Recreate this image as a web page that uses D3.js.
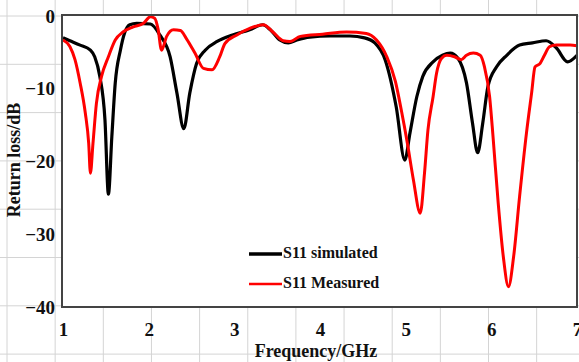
<!DOCTYPE html>
<html>
<head>
<meta charset="utf-8">
<script src="https://cdn.jsdelivr.net/npm/d3@7"></script>
<style>
  body { margin: 0; background: #fff; }
  svg text { font-family: "Liberation Serif", "Times New Roman", serif; font-weight: bold; fill: #111; }
</style>
</head>
<body>
<div id="chart"></div>
<script>
// frequency (GHz) and return loss (dB)
const simFreq = [1.00, 1.08, 1.20, 1.32, 1.37, 1.43, 1.49, 1.53, 1.57, 1.61, 1.67, 1.72, 1.78, 1.86, 2.02,
  2.13, 2.25, 2.33, 2.41, 2.48, 2.56, 2.66, 2.80, 2.98, 3.18, 3.33, 3.42, 3.53, 3.63, 3.73, 3.88, 4.12,
  4.35, 4.52, 4.64, 4.76, 4.89, 4.99, 5.05, 5.13, 5.20, 5.32, 5.43, 5.52, 5.61, 5.71, 5.78, 5.84, 5.90,
  5.96, 6.06, 6.18, 6.33, 6.48, 6.64, 6.76, 6.89, 7.00];
const simLoss = [-3.0, -3.4, -4.0, -4.7, -5.6, -8.3, -14.3, -24.5, -16.6, -9.2, -4.7, -2.3, -1.2, -1.0, -1.1,
  -2.6, -5.6, -10.6, -15.5, -10.6, -6.5, -4.7, -3.5, -2.6, -1.9, -1.2, -1.9, -3.3, -3.7, -3.3, -2.9, -2.75,
  -2.75, -3.0, -3.7, -6.0, -12.5, -19.8, -16.1, -11.1, -8.3, -6.3, -5.4, -5.1, -5.8, -9.2, -14.7, -18.8, -14.7,
  -9.7, -7.0, -5.4, -4.0, -3.7, -3.4, -4.4, -6.3, -5.4];

const measFreq = [1.00, 1.08, 1.14, 1.20, 1.26, 1.30, 1.32, 1.35, 1.39, 1.45, 1.53, 1.61, 1.70, 1.82, 1.94,
  2.02, 2.07, 2.11, 2.15, 2.21, 2.29, 2.37, 2.44, 2.54, 2.64, 2.74, 2.83, 2.89, 3.03, 3.18, 3.34, 3.45,
  3.57, 3.65, 3.77, 4.03, 4.31, 4.54, 4.66, 4.78, 4.88, 4.95, 5.02, 5.09, 5.17, 5.22, 5.26, 5.32, 5.36,
  5.42, 5.48, 5.57, 5.65, 5.71, 5.79, 5.87, 5.92, 5.98, 6.02, 6.08, 6.14, 6.20, 6.26, 6.33, 6.41, 6.47,
  6.51, 6.57, 6.62, 6.68, 6.76, 6.92, 7.00];
const measLoss = [-3.3, -4.2, -6.0, -9.2, -13.3, -17.5, -21.6, -17.5, -12.0, -8.3, -5.6, -3.3, -2.2, -1.5, -1.0,
  -0.1, -0.3, -1.8, -4.7, -2.8, -1.9, -2.0, -3.1, -5.1, -7.2, -7.4, -5.6, -3.8, -2.6, -1.7, -1.2, -2.2,
  -3.4, -3.5, -2.8, -2.5, -2.2, -2.4, -3.3, -5.6, -9.0, -13.0, -17.5, -22.5, -27.1, -21.6, -15.7, -11.1, -7.9,
  -5.8, -5.4, -5.6, -6.0, -5.4, -5.1, -5.4, -7.0, -11.1, -16.6, -25.7, -33.1, -37.2, -33.1, -24.8, -16.1, -10.6,
  -7.0, -6.5, -5.4, -4.2, -4.0, -4.0, -4.1];

const xTicks = [1, 2, 3, 4, 5, 6, 7];
const yTicks = [0, -10, -20, -30, -40];
const seriesNames = ["S11 simulated", "S11 Measured"];
const seriesColors = ["#000000", "#ff0000"];

const W = 579, H = 362;
const plot = { left: 62, top: 15, right: 577, bottom: 307 };

const svg = d3.select("#chart").append("svg")
  .attr("width", W)
  .attr("height", H);

// spreadsheet cell grid behind the chart
svg.append("g").selectAll("line.v")
  .data(d3.range(7, W + 1, 48.15))
  .enter().append("line")
  .attr("x1", d => d).attr("x2", d => d)
  .attr("y1", 0).attr("y2", H)
  .attr("stroke", "#d4d4d4").attr("stroke-width", 1);
svg.append("g").selectAll("line.h")
  .data(d3.range(16, H + 1, 48.3))
  .enter().append("line")
  .attr("x1", 0).attr("x2", W)
  .attr("y1", d => d).attr("y2", d => d)
  .attr("stroke", "#d4d4d4").attr("stroke-width", 1);

// plot area
svg.append("rect")
  .attr("x", plot.left).attr("y", plot.top)
  .attr("width", plot.right - plot.left)
  .attr("height", plot.bottom - plot.top)
  .attr("fill", "#fff");

const x = d3.scaleLinear().domain([1, 7]).range([plot.left + 1, plot.right]);
const y = d3.scaleLinear().domain([-40, 0]).range([plot.bottom, plot.top + 1]);

const line = d3.line()
  .x(d => x(d[0]))
  .y(d => y(d[1]))
  .curve(d3.curveMonotoneX);

const series = [
  d3.zip(simFreq, simLoss),
  d3.zip(measFreq, measLoss)
];

svg.append("clipPath").attr("id", "clip")
  .append("rect")
  .attr("x", plot.left).attr("y", plot.top)
  .attr("width", plot.right - plot.left)
  .attr("height", plot.bottom - plot.top);

const lines = svg.append("g").attr("clip-path", "url(#clip)");
lines.append("path")
  .datum(series[0])
  .attr("d", line)
  .attr("fill", "none")
  .attr("stroke", seriesColors[0])
  .attr("stroke-width", 3.2)
  .attr("stroke-linejoin", "round");
lines.append("path")
  .datum(series[1])
  .attr("d", line)
  .attr("fill", "none")
  .attr("stroke", seriesColors[1])
  .attr("stroke-width", 3)
  .attr("stroke-linejoin", "round");

// frame
svg.append("rect")
  .attr("x", plot.left).attr("y", plot.top)
  .attr("width", plot.right - plot.left)
  .attr("height", plot.bottom - plot.top)
  .attr("fill", "none")
  .attr("stroke", "#444")
  .attr("stroke-width", 2);

// axes
const xAxis = svg.append("g")
  .attr("transform", "translate(0," + plot.bottom + ")")
  .call(d3.axisBottom(x).tickValues(xTicks).tickSize(0).tickPadding(16).tickFormat(d3.format("d")));
xAxis.select(".domain").remove();
xAxis.selectAll("text").style("font-size", "19px").attr("fill", "#111");

const yAxis = svg.append("g")
  .attr("transform", "translate(" + plot.left + ",0)")
  .call(d3.axisLeft(y).tickValues(yTicks).tickSize(0).tickPadding(7).tickFormat(d3.format("d")));
yAxis.select(".domain").remove();
yAxis.selectAll("text").style("font-size", "19px").attr("fill", "#111");

svg.append("text")
  .attr("x", 316).attr("y", 357)
  .attr("text-anchor", "middle")
  .style("font-size", "18px")
  .text("Frequency/GHz");

svg.append("text")
  .attr("transform", "translate(20,160) rotate(-90)")
  .attr("text-anchor", "middle")
  .style("font-size", "18px")
  .text("Return loss/dB");

// legend
const legend = svg.append("g");
seriesNames.forEach((name, i) => {
  const ly = 254 + i * 30;
  legend.append("line")
    .attr("x1", 249).attr("x2", 282)
    .attr("y1", ly).attr("y2", ly)
    .attr("stroke", seriesColors[i])
    .attr("stroke-width", i === 0 ? 3.5 : 2.5);
  legend.append("text")
    .attr("x", 283).attr("y", ly + 4)
    .style("font-size", "16px")
    .text(name);
});
</script>
</body>
</html>
